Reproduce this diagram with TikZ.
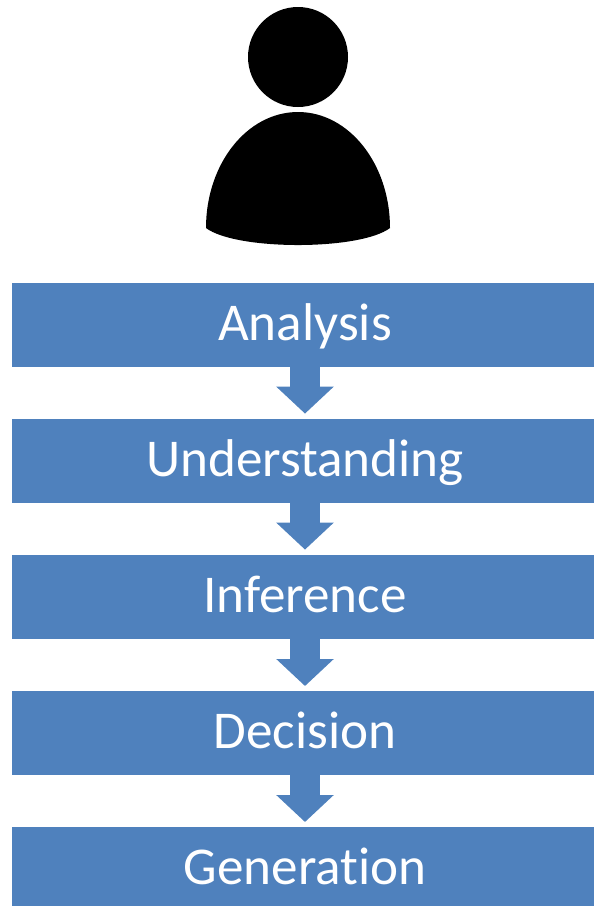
\documentclass[tikz,border=0pt]{standalone}
\usepackage{fontspec}
\setmainfont[Ligatures=NoCommon]{Carlito}
\usetikzlibrary{arrows.meta}
\definecolor{stageblue}{HTML}{4F81BD}
\tikzset{
  stagebox/.style={rectangle, fill=stageblue, text=white, outer sep=0pt, minimum height=2.09cm, minimum width=14.65cm, text height=1.06cm, text depth=0.3cm, font=\fontsize{37.8}{44}\selectfont},
  stagearrow/.style={-{Triangle[width=1.4cm, length=0.675cm]}, stageblue, line width=0.75cm, shorten >=0.135cm}
}
\begin{document}
\begin{tikzpicture}
  \useasboundingbox (0, 0) rectangle (14.825, -22.65);
  % Person
  \node (HEAD) [circle, fill=black, minimum size=2.5cm, inner sep=0pt] at (7.45, -1.425) {};
  \fill[black] (5.15, -5.7) .. controls (5.15, -4.1) and (6.175, -2.8) .. (7.45, -2.8)
    .. controls (8.725, -2.8) and (9.75, -4.1) .. (9.75, -5.7)
    .. controls (9, -6.267) and (5.9, -6.267) .. (5.15, -5.7) -- cycle;
  % Nodes
  \node (ANA) [stagebox] at (7.625, -8.12) {Analysis};
  \node (UND) [stagebox] at (7.625, -11.52) {Understanding};
  \node (INF) [stagebox] at (7.625, -14.92) {Inference};
  \node (DEC) [stagebox] at (7.625, -18.33) {Decision};
  \node (GEN) [stagebox] at (7.625, -21.73) {Generation};
  % Arrows
  \draw[stagearrow] (ANA) -- (UND);
  \draw[stagearrow] (UND) -- (INF);
  \draw[stagearrow] (INF) -- (DEC);
  \draw[stagearrow] (DEC) -- (GEN);
\end{tikzpicture}
\end{document}
